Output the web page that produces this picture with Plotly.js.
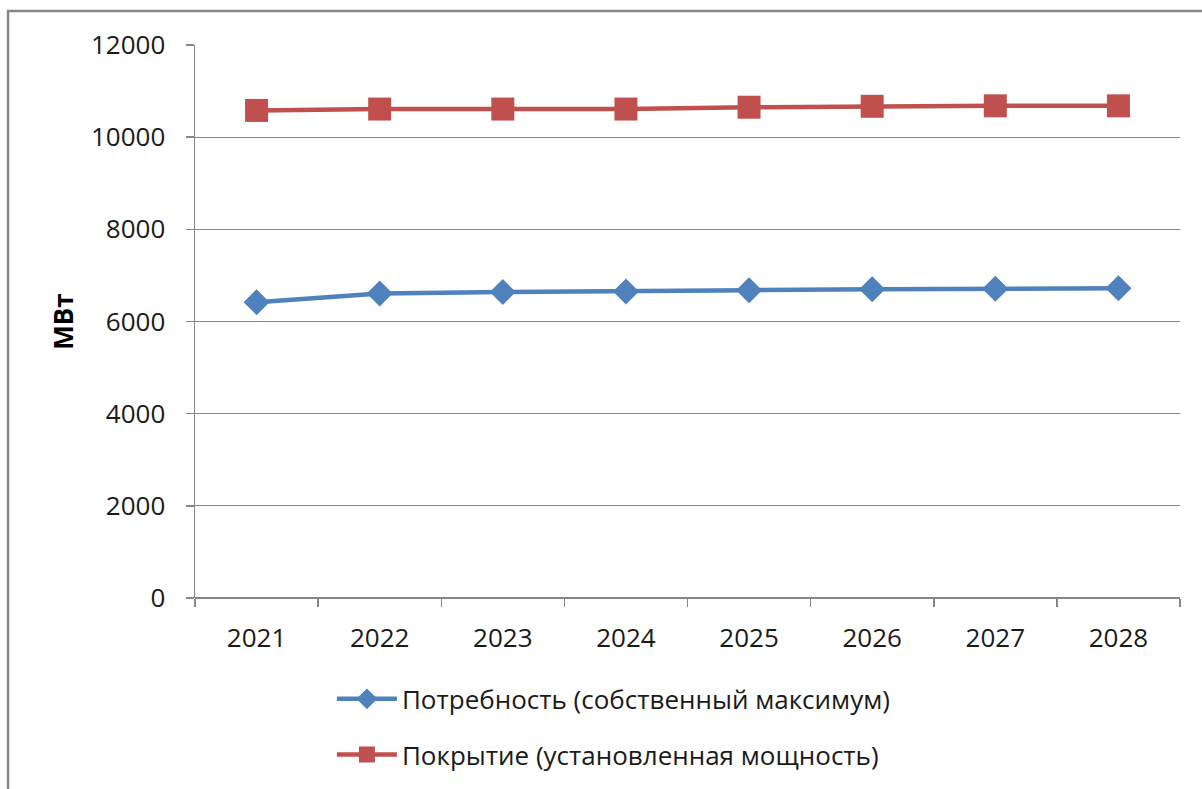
<!DOCTYPE html>
<html>
<head>
<meta charset="utf-8">
<script src="https://cdn.plot.ly/plotly-3.0.1.min.js"></script>
<style>
html,body{margin:0;padding:0;background:#fff;}
#chart{width:1202px;height:789px;}
</style>
</head>
<body>
<div id="chart"></div>
<script>
const years = ['2021','2022','2023','2024','2025','2026','2027','2028'];
const demandName = 'Потребность (собственный максимум)';
const demand = [6420, 6610, 6640, 6650, 6680, 6700, 6710, 6720];
const coverageName = 'Покрытие (установленная мощность)';
const coverage = [10580, 10610, 10610, 10610, 10650, 10670, 10680, 10680];
const yTicks = [0, 2000, 4000, 6000, 8000, 10000, 12000];
const yTitle = 'МВт';

const FONT = 'Open Sans, Liberation Sans, sans-serif';
const traces = [
  {
    x: years, y: demand, name: demandName, type: 'scatter', mode: 'lines+markers',
    line: {color: '#4F81BD', width: 4.5},
    marker: {symbol: 'diamond', size: 20, color: '#4F81BD'},
    legendgroup: 'a'
  },
  {
    x: years, y: coverage, name: coverageName, type: 'scatter', mode: 'lines+markers',
    line: {color: '#C0504D', width: 4.5},
    marker: {symbol: 'square', size: 23, color: '#C0504D'},
    legendgroup: 'b'
  }
];

const layout = {
  width: 1202, height: 789,
  margin: {l: 195, r: 22, t: 45, b: 191, autoexpand: false},
  paper_bgcolor: '#ffffff', plot_bgcolor: '#ffffff',
  font: {family: FONT, size: 26, color: '#1a1a1a'},
  showlegend: true,
  legend: {
    orientation: 'v', x: 0.139, xanchor: 'left', y: -0.14, yanchor: 'top',
    font: {family: FONT, size: 26, color: '#1a1a1a'},
    tracegroupgap: 19, itemwidth: 60, bgcolor: 'rgba(0,0,0,0)'
  },
  xaxis: {
    type: 'category', range: [-0.5, 7.5],
    showgrid: false, showline: false, zeroline: false,
    ticks: 'outside', tickson: 'boundaries', ticklen: 8, tickcolor: '#868686', tickwidth: 1.5,
    tickfont: {family: FONT, size: 26, color: '#1a1a1a'},
    ticklabelstandoff: 22
  },
  yaxis: {
    range: [0, 12000], tickvals: yTicks, ticktext: yTicks.map(String),
    showgrid: true, gridcolor: '#868686', gridwidth: 1.2,
    showline: true, linecolor: '#868686', linewidth: 1.5,
    zeroline: true, zerolinecolor: '#868686', zerolinewidth: 1.5,
    ticks: 'outside', ticklen: 8, tickcolor: '#868686', tickwidth: 1.5,
    tickfont: {family: FONT, size: 26, color: '#1a1a1a'},
    ticklabelstandoff: 15,
    title: {text: '<b>' + yTitle + '</b>', font: {family: FONT, size: 26, color: '#000'}, standoff: 10}
  },
  shapes: [{
    type: 'rect', xref: 'paper', yref: 'paper',
    x0: -0.1898, x1: 1.2, y0: -0.5, y1: 1.0615,
    line: {color: '#878787', width: 2.5}, fillcolor: 'rgba(0,0,0,0)', layer: 'below'
  }]
};

Plotly.newPlot('chart', traces, layout, {displayModeBar: false, staticPlot: true});
</script>
</body>
</html>
